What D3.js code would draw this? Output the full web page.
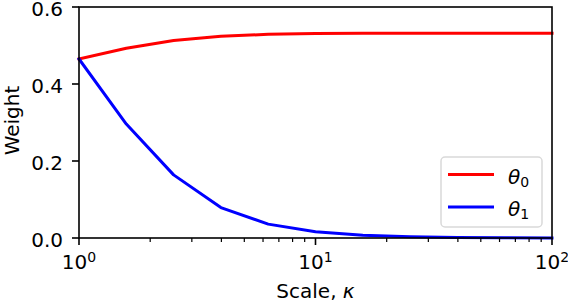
<!DOCTYPE html>
<html>
<head>
<meta charset="utf-8">
<script src="https://cdn.jsdelivr.net/npm/d3@7"></script>
<style>
  body { margin: 0; background: #fff; }
  svg { display: block; font-family: "DejaVu Sans", sans-serif; }
</style>
</head>
<body>
<div id="chart"></div>
<script>
// values
const kappa = [1, 1.585, 2.512, 3.981, 6.31, 10, 15.85, 25.12, 39.81, 63.1, 100];
const theta0 = [0.465, 0.493, 0.513, 0.524, 0.529, 0.531, 0.532, 0.532, 0.532, 0.532, 0.532];
const theta1 = [0.465, 0.296, 0.164, 0.079, 0.036, 0.016, 0.007, 0.003, 0.0012, 0.0005, 0.0002];
const yTicks = [0, 0.2, 0.4, 0.6];
const xTicks = [1, 10, 100];
const seriesNames = ["0", "1"];
const seriesColors = ["#ff0000", "#0000ff"];

const W = 568, H = 302;
const margin = { top: 7, right: 16, bottom: 64, left: 79 },
      width = W - margin.left - margin.right,
      height = H - margin.top - margin.bottom;

const svg = d3.select("#chart").append("svg")
    .attr("width", W)
    .attr("height", H);

const g = svg.append("g")
    .attr("transform", `translate(${margin.left},${margin.top})`);

const x = d3.scaleLog().domain([1, 100]).range([0, width]);
const y = d3.scaleLinear().domain([0, 0.6]).range([height, 0]);

// lines
const series = [theta0, theta1];
const line = d3.line()
    .x((d, i) => x(kappa[i]))
    .y(d => y(d));

series.forEach((s, k) => {
    g.append("path")
        .datum(s)
        .attr("fill", "none")
        .attr("stroke", seriesColors[k])
        .attr("stroke-width", 3)
        .attr("stroke-linejoin", "round")
        .attr("stroke-linecap", "square")
        .attr("d", line);
});

// minor ticks on x
const minor = [];
[1, 10].forEach(dec => { for (let m = 2; m <= 9; m++) minor.push(dec * m); });
g.selectAll(".minor")
    .data(minor)
    .enter().append("line")
    .attr("x1", d => x(d)).attr("x2", d => x(d))
    .attr("y1", height).attr("y2", height + 4)
    .attr("stroke", "#000").attr("stroke-width", 1.2);

// major ticks x
g.selectAll(".xmajor")
    .data(xTicks)
    .enter().append("line")
    .attr("x1", d => x(d)).attr("x2", d => x(d))
    .attr("y1", height).attr("y2", height + 7)
    .attr("stroke", "#000").attr("stroke-width", 1.6);

const xl = g.selectAll(".xlab")
    .data(xTicks)
    .enter().append("text")
    .attr("x", d => x(d))
    .attr("y", height + 31)
    .attr("text-anchor", "middle")
    .style("font-size", "20px");
xl.append("tspan").text("10");
xl.append("tspan")
    .attr("dy", -7.5)
    .style("font-size", "14px")
    .text(d => Math.round(Math.log10(d)));

// y ticks
g.selectAll(".ymajor")
    .data(yTicks)
    .enter().append("line")
    .attr("x1", -7).attr("x2", 0)
    .attr("y1", d => y(d)).attr("y2", d => y(d))
    .attr("stroke", "#000").attr("stroke-width", 1.6);

g.selectAll(".ylab")
    .data(yTicks)
    .enter().append("text")
    .attr("x", -16)
    .attr("y", d => y(d) + 8.5)
    .attr("text-anchor", "end")
    .style("font-size", "20px")
    .text(d => d.toFixed(1));

// frame
g.append("rect")
    .attr("width", width).attr("height", height)
    .attr("fill", "none")
    .attr("stroke", "#000")
    .attr("stroke-width", 1.6);

// axis labels
g.append("text")
    .attr("x", width / 2)
    .attr("y", height + 60)
    .attr("text-anchor", "middle")
    .style("font-size", "20px")
    .html('Scale, <tspan font-style="italic">κ</tspan>');

g.append("text")
    .attr("transform", "rotate(-90)")
    .attr("x", -height / 2 + 2)
    .attr("y", -60)
    .attr("text-anchor", "middle")
    .style("font-size", "20px")
    .text("Weight");

// legend
const lg = g.append("g")
    .attr("transform", `translate(${441 - margin.left},${157 - margin.top})`);
lg.append("rect")
    .attr("width", 101).attr("height", 70)
    .attr("rx", 4)
    .attr("fill", "#fff").attr("fill-opacity", 0.8)
    .attr("stroke", "#d9d9d9").attr("stroke-width", 1.5);

seriesNames.forEach((name, k) => {
    const yy = 17.5 + k * 32.5;
    lg.append("line")
        .attr("x1", 7).attr("x2", 53)
        .attr("y1", yy).attr("y2", yy)
        .attr("stroke", seriesColors[k])
        .attr("stroke-width", 3);
    const t = lg.append("text")
        .attr("x", 67)
        .attr("y", yy + 9)
        .style("font-size", "20px");
    t.append("tspan").attr("font-style", "italic").text("θ");
    t.append("tspan")
        .attr("dy", 3)
        .style("font-size", "14px")
        .text(name);
});
</script>
</body>
</html>
